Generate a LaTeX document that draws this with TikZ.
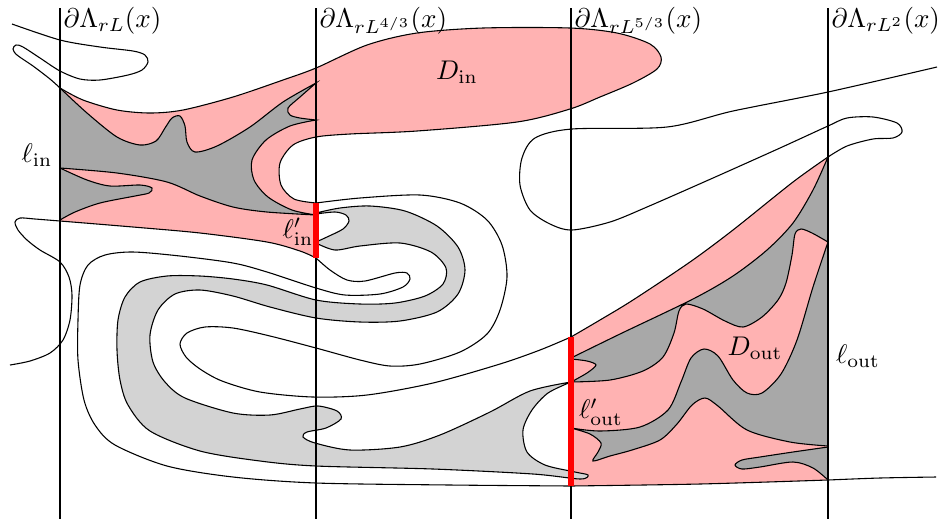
\documentclass[tikz,border=0pt]{standalone}
\usepackage{amsmath,amssymb}
\usepackage{tikz}
\usetikzlibrary{positioning}
\definecolor{clusterpink}{RGB}{255,178,178}
\definecolor{darkshade}{RGB}{168,168,168}
\definecolor{lightshade}{RGB}{211,211,211}

\begin{document}
\begin{tikzpicture}[x=0.37pt,y=-0.37pt,
wall/.style={draw,black},
bdry/.style={draw,black},
pinkreg/.style={fill=clusterpink,draw=black},
darkreg/.style={fill=darkshade,draw=black},
lightreg/.style={fill=lightshade,draw=black},
bar/.style={draw=red,line width=1.9pt},
lbl/.style={inner sep=0pt}]
\useasboundingbox (0,0) rectangle (938,521);

% pink region left, with D_in
\path[pinkreg] plot[smooth] coordinates {(60,88) (83,100) (117,110) (150,113) (183,110) (233,97) (283,80) (316,68) (367,45) (417,33) (483,28) (570,28) (617,33) (650,44) (661,57) (657,69) (633,83) (600,97) (570,109) (517,122) (417,131) (350,134) (316,137) (293,145) (280,163) (281,185) (294,199) (316,203)}
  -- plot[smooth] coordinates {(316,258) (300,251) (267,242) (200,233) (133,227) (60,221)} -- cycle;
% pink region right, D_out
\path[pinkreg] plot[smooth] coordinates {(571,337) (600,320) (633,300) (690,262) (733,230) (793,182) (828,157)}
  -- plot[smooth] coordinates {(828,480) (700,484) (571,486)} -- cycle;

% dark grey parts
\path[darkreg] plot[smooth] coordinates {(60,88) (87,113) (117,137) (140,145) (156,141) (165,128) (172,118) (180,116) (185,126) (187,142) (195,152) (217,146) (250,127) (283,102) (316,83)}
  -- plot[smooth] coordinates {(316,83) (300,97) (288,108) (290,115) (300,118) (316,120)}
  -- plot[smooth] coordinates {(316,120) (290,126) (266,140) (252,160) (254,180) (268,197) (292,210) (316,215)}
  -- plot[smooth] coordinates {(316,215) (267,212) (233,207) (200,196) (167,182) (117,173) (60,168)} -- cycle;
\path[darkreg] plot[smooth] coordinates {(60,168) (87,180) (110,186) (140,185) (152,188) (149,193) (135,196) (100,203) (75,212) (60,220)} -- cycle;
\path[darkreg] plot[smooth] coordinates {(571,358) (620,334) (693,299) (733,276) (767,250) (793,223) (813,190) (828,157)}
  -- plot[smooth] coordinates {(828,242) (812,233) (801,229) (795,234) (792,255) (786,283) (778,300) (762,317) (743,327) (725,321) (703,309) (686,304) (679,311) (674,333) (663,357) (643,371) (610,380) (571,382)}
  -- plot[smooth] coordinates {(571,382) (587,373) (596,365) (587,361) (571,359)} -- cycle;
\path[darkreg] plot[smooth] coordinates {(571,428) (600,431) (640,427) (668,410) (681,382) (691,358) (704,349) (718,356) (733,380) (747,393) (762,393) (781,374) (797,340) (813,287) (828,242)}
  -- plot[smooth] coordinates {(828,446) (790,442) (747,430) (718,406) (705,398) (692,405) (677,424) (660,440) (632,450) (610,456) (593,461) (598,452) (601,443) (590,434) (571,428)} -- cycle;
\path[darkreg] plot[smooth] coordinates {(828,447) (793,452) (760,457) (742,460) (735,465) (742,469) (760,467) (793,462) (813,468) (828,480)} -- cycle;

% light grey band
\path[lightreg] plot[smooth] coordinates {(316,213) (340,208) (370,206) (405,211) (437,226) (458,247) (465,270) (458,294) (437,312) (400,321) (360,322) (316,318) (270,307) (233,296) (200,290) (175,294) (158,310) (150,335) (153,362) (165,382) (185,398) (233,413) (270,415) (300,409) (318,406) (337,411) (341,419) (326,428) (307,432) (303,437) (315,443) (350,450) (400,447) (440,435) (490,412) (530,391) (571,382)}
  -- plot[smooth] coordinates {(571,382) (548,393) (532,410) (523,430) (527,452) (545,465) (575,472) (588,475) (580,479) (533,474) (433,469) (316,466) (260,461) (200,451) (150,431) (128,405) (120,380) (117,350) (118,320) (125,297) (140,282) (167,276) (200,276) (233,279) (267,285) (316,300) (360,304) (395,303) (425,296) (443,284) (446,268) (431,252) (400,243) (360,246) (335,250) (316,243)}
  -- plot[smooth] coordinates {(316,242) (327,237) (343,229) (349,221) (346,215) (335,212) (316,214)} -- cycle;

% the four boundaries
\foreach \x/\n in {60/wa,316/wb,571/wc,828/wd}{
  \draw[wall] (\x,8) coordinate (\n top) -- (\x,519) coordinate (\n bot);
}

% open curves
\draw[bdry] plot[smooth] coordinates {(12,24) (60,40) (100,47) (133,51) (145,55) (148,62) (142,70) (128,75) (100,80) (80,79) (60,71) (40,58) (23,47) (16,45) (13,49) (17,55) (33,66) (50,79) (60,88)};
\draw[bdry] plot[smooth] coordinates {(316,203) (360,198) (420,195) (460,203) (487,220) (502,245) (507,277) (500,310) (487,334) (460,352) (420,364) (390,366) (360,360) (316,348) (270,336) (233,328) (205,327) (187,333) (180,344) (186,357) (200,369) (222,381) (260,392) (313,397) (367,395) (433,383) (500,364) (540,350) (571,337)};
\draw[bdry] plot[smooth] coordinates {(828,157) (847,146) (873,139) (893,138) (902,132) (897,123) (873,117) (847,118) (828,126) (780,148) (713,178) (647,207) (610,222) (572,230) (550,224) (530,210) (520,185) (522,158) (535,138) (572,129) (667,127) (733,111) (828,92) (937,67)};
\draw[bdry] plot[smooth] coordinates {(10,365) (30,361) (50,353) (63,340) (70,320) (72,295) (69,277) (60,262) (40,250) (27,240) (18,230) (15,222) (20,218) (35,219) (60,221)};
\draw[bdry] plot[smooth] coordinates {(316,258) (330,270) (347,280) (365,281) (395,273) (407,273) (410,279) (403,287) (380,294) (345,295) (316,288) (267,272) (233,263) (180,256) (133,252) (105,255) (88,265) (80,285) (78,320) (78,360) (84,400) (95,425) (115,445) (167,466) (233,477) (316,483) (450,485) (571,486)};
\draw[bdry] plot[smooth] coordinates {(828,480) (880,478) (936,477)};

% the cuts in red
\coordinate (inTop) at (316,203);
\coordinate (inBot) at (316,258);
\coordinate (outTop) at (571,337);
\coordinate (outBot) at (571,486);
\draw[bar] (inTop) -- (inBot);
\draw[bar] (outTop) -- (outBot);

% labels
\node[lbl,anchor=base west] (la) at (63,27) {$\partial\Lambda_{rL}(x)$};
\node[lbl,anchor=base west] (lb) at (319,27) {$\partial\Lambda_{rL^{4/3}}(x)$};
\node[lbl,anchor=base west] (lc) at (574,27) {$\partial\Lambda_{rL^{5/3}}(x)$};
\node[lbl,anchor=base west] (ld) at (831,27) {$\partial\Lambda_{rL^2}(x)$};
\node (lin) at (37,155) {$\ell_{\mathrm{in}}$};
\node (linp) at (298,232) {$\ell'_{\mathrm{in}}$};
\node (din) at (457,72) {$D_{\mathrm{in}}$};
\node (loutp) at (601,412) {$\ell'_{\mathrm{out}}$};
\node (dout) at (755,348) {$D_{\mathrm{out}}$};
\node (lout) at (858,356) {$\ell_{\mathrm{out}}$};
\end{tikzpicture}
\end{document}
